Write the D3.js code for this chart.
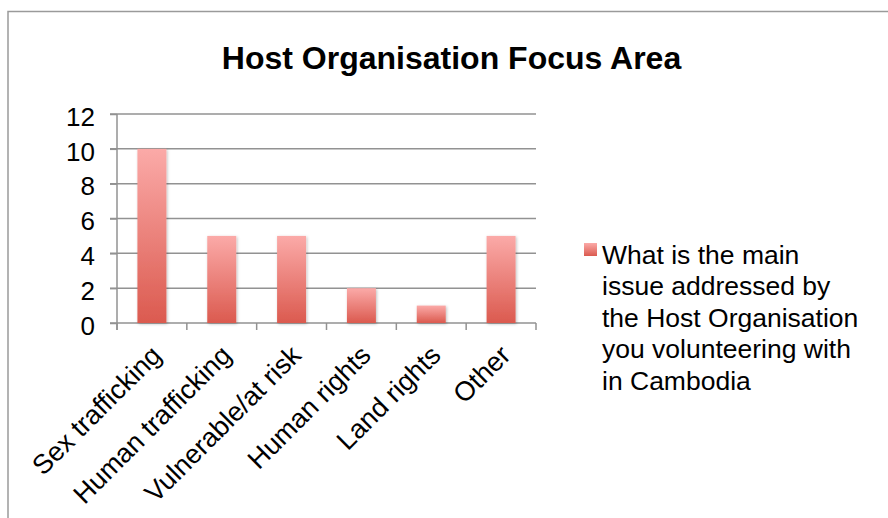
<!DOCTYPE html>
<html>
<head>
<meta charset="UTF-8" />
<title>Host Organisation Focus Area</title>
<script src="https://cdn.jsdelivr.net/npm/d3@7"></script>
<style>
  body { margin: 0; background: #fff; }
  text { font-family: "Liberation Sans", Arial, Helvetica, sans-serif; fill: #000; }
</style>
</head>
<body>
<svg id="chart"></svg>
<script>
// chart data
const categories = ["Sex trafficking", "Human trafficking", "Vulnerable/at risk", "Human rights", "Land rights", "Other"];
const values = [10, 5, 5, 2, 1, 5];
const yTicks = [0, 2, 4, 6, 8, 10, 12];
const title = "Host Organisation Focus Area";
const legendLines = ["What is the main", "issue addressed by", "the Host Organisation", "you volunteering with", "in Cambodia"];

const width = 888, height = 518;
const plotLeft = 117, plotRight = 536, plotTop = 114, plotBottom = 323;
const gridColor = "#929292";

const svg = d3.select("#chart").attr("width", width).attr("height", height);

// bar gradient + soft shadow
const defs = svg.append("defs");
const grad = defs.append("linearGradient").attr("id", "barGrad")
    .attr("x1", 0).attr("y1", 0).attr("x2", 0).attr("y2", 1);
grad.append("stop").attr("offset", "0%").attr("stop-color", "#fbaaa8");
grad.append("stop").attr("offset", "100%").attr("stop-color", "#db5a4f");
const shadow = defs.append("filter").attr("id", "shadow")
    .attr("x", "-30%").attr("y", "-10%").attr("width", "160%").attr("height", "130%");
shadow.append("feDropShadow").attr("dx", 1).attr("dy", 1).attr("stdDeviation", 1.5)
    .attr("flood-color", "#000").attr("flood-opacity", 0.25);

// outer frame
svg.append("path")
    .attr("d", `M8,${height} V11.5 H${width}`)
    .attr("fill", "none").attr("stroke", "#9a9a9a").attr("stroke-width", 1.5);

// title
svg.append("text")
    .attr("x", 451.5).attr("y", 68.5)
    .attr("text-anchor", "middle")
    .style("font-size", "32px").style("font-weight", "bold")
    .text(title);

const x = d3.scaleBand().domain(categories).range([plotLeft, plotRight])
    .paddingInner(0.585).paddingOuter(0.2925);
const y = d3.scaleLinear().domain([0, 12]).range([plotBottom, plotTop]);

// gridlines
svg.append("g").selectAll("line").data(yTicks).enter().append("line")
    .attr("x1", plotLeft - 7).attr("x2", plotRight)
    .attr("y1", d => y(d)).attr("y2", d => y(d))
    .attr("stroke", gridColor).attr("stroke-width", 1.5);

// y axis
const yAxis = svg.append("g").attr("transform", `translate(${plotLeft},0)`)
    .call(d3.axisLeft(y).tickValues(yTicks).tickSize(7).tickPadding(15));
yAxis.select(".domain").remove();
yAxis.selectAll(".tick line").attr("stroke", gridColor).attr("stroke-width", 1.5);
yAxis.selectAll(".tick text").style("font-size", "26px").attr("dy", "0.43em");
svg.append("line")
    .attr("x1", plotLeft).attr("x2", plotLeft).attr("y1", plotTop).attr("y2", plotBottom + 7)
    .attr("stroke", gridColor).attr("stroke-width", 1.5);

// x category ticks at band edges
const edges = categories.map(c => x(c) - x.step() * x.paddingInner() / 2)
    .concat([x(categories[categories.length - 1]) + x.bandwidth() + x.step() * x.paddingInner() / 2]);
svg.append("g").selectAll("line").data(edges).enter().append("line")
    .attr("x1", d => d).attr("x2", d => d)
    .attr("y1", plotBottom).attr("y2", plotBottom + 7)
    .attr("stroke", gridColor).attr("stroke-width", 1.5);

// bars
svg.append("g").selectAll("rect").data(values).enter().append("rect")
    .attr("x", (d, i) => x(categories[i]))
    .attr("y", d => y(d))
    .attr("width", x.bandwidth())
    .attr("height", d => y(0) - y(d))
    .attr("fill", "url(#barGrad)")
    .attr("filter", "url(#shadow)");

// x labels rotated
svg.append("g").selectAll("text").data(categories).enter().append("text")
    .attr("transform", d => `translate(${x(d) + x.bandwidth() / 2 + 11},${plotBottom + 34}) rotate(-45)`)
    .attr("text-anchor", "end")
    .style("font-size", "27px")
    .text(d => d);

// legend
svg.append("rect")
    .attr("x", 584).attr("y", 243).attr("width", 13).attr("height", 13)
    .attr("fill", "url(#barGrad)");
svg.append("g").selectAll("text").data(legendLines).enter().append("text")
    .attr("x", 602).attr("y", (d, i) => 263.5 + i * 31.6)
    .style("font-size", "26.5px")
    .text(d => d);
</script>
</body>
</html>
